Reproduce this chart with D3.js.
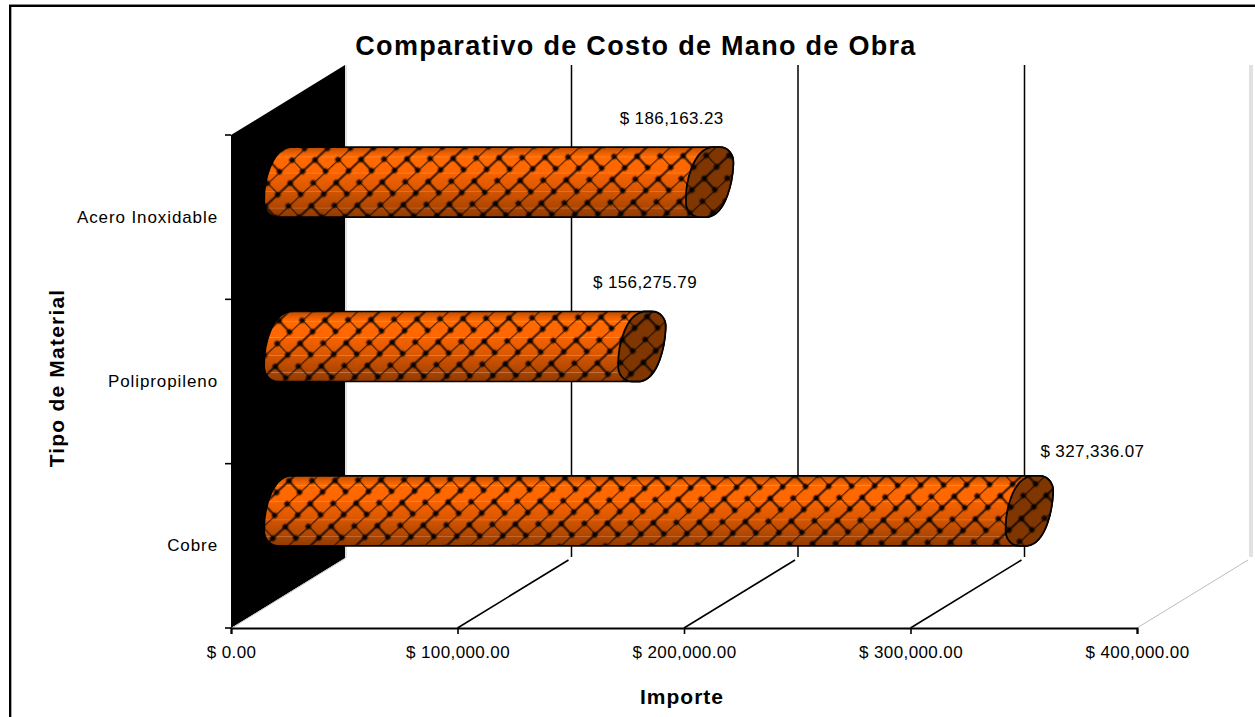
<!DOCTYPE html>
<html>
<head>
<meta charset="utf-8">
<script src="https://cdn.jsdelivr.net/npm/d3@7"></script>
<style>
  html, body { margin: 0; padding: 0; background: #fff; overflow: hidden; }
  text { font-family: "Liberation Sans", Arial, sans-serif; fill: #000; }
</style>
</head>
<body>
<script>
// chart values
const materiales = ["Cobre", "Polipropileno", "Acero Inoxidable"];
const importes = [327336.07, 156275.79, 186163.23];
const etiquetas = ["$ 327,336.07", "$ 156,275.79", "$ 186,163.23"];
const xTicks = [0, 100000, 200000, 300000, 400000];

const W = 1255, H = 717;
const margin = {top: 135, left: 231, bottom: 89, right: 118};
const depth = {x: 114, y: -70}; // offset of the back wall
const barH = 35; // half height of the cylinder
const labelNudge = [[63, -54], [3, -59], [-38, -58]];

const svg = d3.select("body").append("svg").attr("width", W).attr("height", H);
const defs = svg.append("defs");

// scales
const x = d3.scaleLinear().domain([0, 400000]).range([margin.left, W - margin.right]);
const y = d3.scaleBand().domain(materiales).range([H - margin.bottom, margin.top]);

// body gradient, bands like the old excel fill
const bandStops = [
  [0, "#b84c00"], [0.07, "#e65c00"], [0.13, "#ff6a00"], [0.14, "#ff8c3c"], [0.15, "#ff6a00"],
  [0.36, "#ff6600"], [0.37, "#ff8c3c"], [0.38, "#f56200"], [0.62, "#d95700"], [0.63, "#e6803c"],
  [0.64, "#d25400"], [0.86, "#ad4600"], [0.87, "#c8784c"], [0.88, "#a84400"], [1, "#903a00"]
];
const grad = defs.append("linearGradient").attr("id", "cuerpo")
  .attr("x1", 0).attr("y1", 0).attr("x2", 0).attr("y2", 1);
bandStops.forEach(function(s) {
  grad.append("stop").attr("offset", s[0]).attr("stop-color", s[1]);
});

// diagonal brick hatch, dark blobs where the lines meet
const L = 34, s = 15.5;
const pat = defs.append("pattern").attr("id", "ladrillo")
  .attr("patternUnits", "userSpaceOnUse")
  .attr("width", L).attr("height", s * 2)
  .attr("patternTransform", "translate(6,3) rotate(-43)");
const brickPath = "M0,0H" + L + "M0," + s + "H" + L + "M0,0V" + s + "M" + (L / 2) + "," + s + "V" + (2 * s);
pat.append("path").attr("d", brickPath).attr("fill", "none").attr("stroke", "#000").attr("stroke-opacity", 0.3).attr("stroke-width", 3);
pat.append("path").attr("d", brickPath).attr("fill", "none").attr("stroke", "#000").attr("stroke-opacity", 0.7).attr("stroke-width", 1.5);
[[0, 0], [L, 0], [0, s], [L, s], [0, 2 * s], [L, 2 * s], [L / 2, 0], [L / 2, s], [L / 2, 2 * s]].forEach(function(n) {
  pat.append("circle").attr("cx", n[0]).attr("cy", n[1]).attr("r", 3.6).attr("fill", "#000").attr("fill-opacity", 0.3);
  pat.append("circle").attr("cx", n[0]).attr("cy", n[1]).attr("r", 2.4).attr("fill", "#000").attr("fill-opacity", 0.8);
});

const base = H - margin.bottom;
const backBase = base + depth.y;
const backTop = 65;

// black side wall
svg.append("path")
  .attr("d", "M" + x(0) + "," + margin.top + "L" + (x(0) + depth.x) + "," + backTop +
             "V" + backBase + "L" + x(0) + "," + base + "Z")
  .attr("fill", "#000");

// wall edges in grey
svg.append("path")
  .attr("d", "M" + (x(0) + depth.x + 1) + "," + backTop + "V" + backBase + "L" + (x(0) + 1) + "," + base)
  .attr("fill", "none").attr("stroke", "#c8c8c8").attr("stroke-width", 1);

// grid on the back wall and floor
const lines = svg.append("g");
xTicks.slice(1).forEach(function(t, i) {
  const last = i === xTicks.length - 2;
  const bx = x(t) + depth.x;
  if (!last) {
    lines.append("line").attr("x1", bx).attr("x2", bx).attr("y1", backTop).attr("y2", backBase - 1)
      .attr("stroke", "#000").attr("stroke-width", 1.5);
  }
  lines.append("line").attr("x1", x(t)).attr("y1", base)
    .attr("x2", bx - 3).attr("y2", backBase + 2)
    .attr("stroke", last ? "#bdbdbd" : "#000").attr("stroke-width", last ? 1 : 1.6);
});
// far right wall edge
const farX = x(400000) + depth.x;
lines.append("path")
  .attr("d", "M" + (farX - 1) + "," + backTop + "V" + (backBase - 1) + "M" + (farX + 1) + "," + backTop + "V" + (backBase - 1))
  .attr("fill", "none").attr("stroke", "#c4c4c4").attr("stroke-width", 1);

// cylinders
const r = barH;
function rightEnd(q) {
  return "L" + q(10, -r) +
    "C" + q(18, -r) + " " + q(24.5, -28) + " " + q(23.7, -18) +
    "C" + q(23, -2) + " " + q(17, 32) + " " + q(-2, r);
}
function leftEnd(p) {
  return "L" + p(-10, r) +
    "C" + p(-18, r) + " " + p(-24.5, 28) + " " + p(-23.7, 18) +
    "C" + p(-24, 0) + " " + p(-17, -32) + " " + p(2, -r) + "Z";
}
function at(cx, cy) {
  return function(a, b) { return (cx + a) + "," + (cy + b); };
}
function capPath(cx, cy) {
  const p = at(cx, cy);
  return "M" + p(2, -r) + rightEnd(p) + leftEnd(p);
}
function bodyPath(x0, x1, cy) {
  const p = at(x0, cy), q = at(x1, cy);
  return "M" + p(2, -r) + rightEnd(q) + leftEnd(p);
}

const bars = svg.selectAll("g.barra").data(materiales).enter().append("g").attr("class", "barra");
bars.each(function(m, i) {
  const g = d3.select(this);
  const cy = y(m) + y.bandwidth() / 2 + depth.y / 2;
  const x0 = x(0) + depth.x / 2;
  const x1 = x(importes[i]) + depth.x / 2;
  const d = bodyPath(x0, x1, cy);
  g.append("path").attr("d", d).attr("fill", "url(#cuerpo)");
  g.append("path").attr("d", d).attr("fill", "url(#ladrillo)").attr("stroke", "#000").attr("stroke-width", 1.6);
  const c = capPath(x1, cy);
  g.append("path").attr("d", c).attr("fill", "#7f3600");
  g.append("path").attr("d", c).attr("fill", "url(#ladrillo)").attr("stroke", "#000").attr("stroke-width", 1.8);
  g.append("text").attr("x", x1 + labelNudge[i][0]).attr("y", cy + labelNudge[i][1])
    .attr("text-anchor", "middle").attr("font-size", 17).attr("letter-spacing", 0.4).text(etiquetas[i]);
});

// bottom axis
const xAxis = d3.axisBottom(x).tickValues(xTicks).tickSize(6).tickPadding(12)
  .tickFormat(function(d) { return "$ " + d3.format(",.2f")(d); });
const gx = svg.append("g").attr("transform", "translate(0," + base + ")").call(xAxis);
gx.select(".domain").attr("stroke", "#000").attr("stroke-width", 2);
gx.selectAll(".tick line").attr("stroke", "#000").attr("stroke-width", 1.6);
gx.selectAll("text").attr("font-size", 17).attr("letter-spacing", 0.4).attr("font-family", "Liberation Sans");

// left axis, ticks sit on the band edges
const yAxis = d3.axisLeft(y).tickSize(0).tickPadding(13);
const gy = svg.append("g").attr("transform", "translate(" + x(0) + ",0)").call(yAxis);
gy.select(".domain").remove();
gy.selectAll("text").attr("font-size", 17).attr("letter-spacing", 0.9).attr("font-family", "Liberation Sans");
d3.range(0, materiales.length + 1).forEach(function(i) {
  const ty = base - i * y.step();
  svg.append("line").attr("x1", x(0) - 6).attr("x2", x(0)).attr("y1", ty).attr("y2", ty)
    .attr("stroke", "#000").attr("stroke-width", 1.6);
});

// titles
svg.append("text").attr("x", 636).attr("y", 55).attr("text-anchor", "middle")
  .attr("font-size", 27).attr("font-weight", "bold").attr("letter-spacing", 1.3)
  .text("Comparativo de Costo de Mano de Obra");
svg.append("text").attr("x", 682).attr("y", 704).attr("text-anchor", "middle")
  .attr("font-size", 21).attr("font-weight", "bold").attr("letter-spacing", 1)
  .text("Importe");
svg.append("text").attr("transform", "translate(64,378) rotate(-90)").attr("text-anchor", "middle")
  .attr("font-size", 21).attr("font-weight", "bold").attr("letter-spacing", 1.2)
  .text("Tipo de Material");

// chart border
svg.append("path").attr("d", "M9,4.5H" + W).attr("fill", "none").attr("stroke", "#888").attr("stroke-width", 1);
svg.append("path").attr("d", "M11.5," + H + "V7").attr("fill", "none").attr("stroke", "#aaa").attr("stroke-width", 1);
svg.append("path").attr("d", "M10," + H + "V6H" + W).attr("fill", "none").attr("stroke", "#000").attr("stroke-width", 2);
</script>
</body>
</html>
